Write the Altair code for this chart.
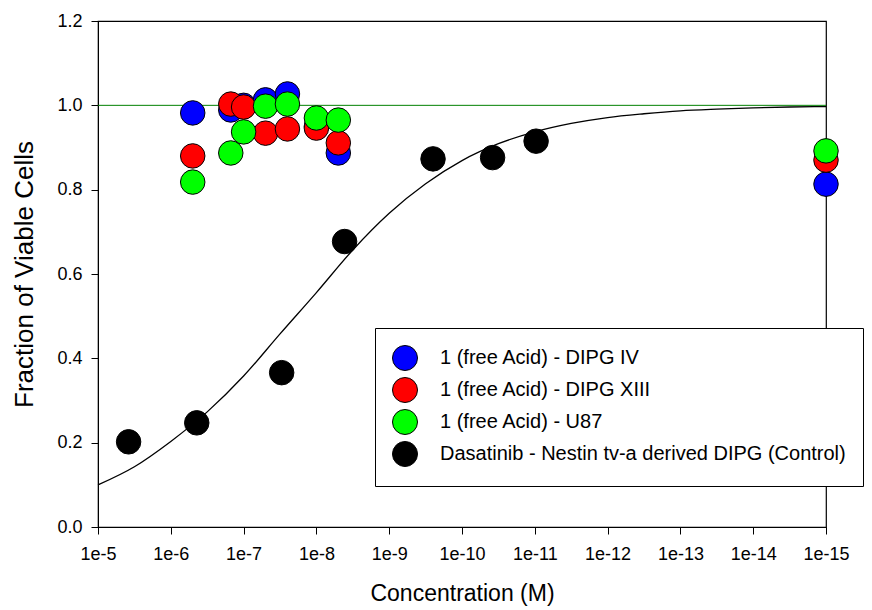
import altair as alt
import pandas as pd

# ---- data ----
series_names = [
    "1 (free Acid) - DIPG IV",
    "1 (free Acid) - DIPG XIII",
    "1 (free Acid) - U87",
    "Dasatinib - Nestin tv-a derived DIPG (Control)",
]
series_colors = ["#0000FF", "#FF0000", "#00FF00", "#000000"]

conc_cmpd = [5e-7, 1.5e-7, 1e-7, 5e-8, 2.5e-8, 1e-8, 5e-9, 1e-15]
frac_dipg_iv = [0.982, 0.989, 1.000, 1.013, 1.027, 0.950, 0.887, 0.813]
frac_dipg_xiii = [0.880, 1.003, 0.996, 0.934, 0.944, 0.946, 0.911, 0.870]
frac_u87 = [0.818, 0.887, 0.937, 0.998, 1.003, 0.970, 0.965, 0.892]

conc_dasatinib = [3.8e-6, 4.4e-7, 3.0e-8, 4.1e-9, 2.5e-10, 3.8e-11, 9.6e-12]
frac_dasatinib = [0.202, 0.247, 0.366, 0.677, 0.873, 0.876, 0.915]

# fitted curve (half-decade steps)
curve_conc = [1e-5, 3.16e-6, 1e-6, 3.16e-7, 1e-7, 3.16e-8, 1e-8, 3.16e-9, 1e-9,
              3.16e-10, 1e-10, 3.16e-11, 1e-11, 3.16e-12, 1e-12, 3.16e-13, 1e-13,
              3.16e-14, 1e-14, 3.16e-15, 1e-15]
curve_frac = [0.100, 0.143, 0.203, 0.273, 0.358, 0.458, 0.556, 0.657, 0.744, 0.814,
              0.869, 0.909, 0.937, 0.957, 0.971, 0.980, 0.987, 0.991, 0.994, 0.996, 0.997]

x_ticks = [1e-5, 1e-6, 1e-7, 1e-8, 1e-9, 1e-10, 1e-11, 1e-12, 1e-13, 1e-14, 1e-15]
y_ticks = [0.0, 0.2, 0.4, 0.6, 0.8, 1.0, 1.2]
ref_line = [1.0]

# ---- tables ----
rows = []
for name, fr in zip(series_names[:3], [frac_dipg_iv, frac_dipg_xiii, frac_u87]):
    for c, v in zip(conc_cmpd, fr):
        rows.append({"conc": c, "frac": v, "series": name})
for c, v in zip(conc_dasatinib, frac_dasatinib):
    rows.append({"conc": c, "frac": v, "series": series_names[3]})
points_df = pd.DataFrame(rows)
curve_df = pd.DataFrame({"conc": curve_conc, "frac": curve_frac})
ref_df = pd.DataFrame({"frac": ref_line})

FONT = "Liberation Sans"

x_enc = alt.X(
    "conc:Q",
    scale=alt.Scale(type="log", domain=[1e-15, 1e-5], reverse=True, nice=False),
    axis=alt.Axis(
        values=x_ticks,
        labelExpr="'1e' + round(log(datum.value)/LN10)",
        labelFlush=False,
        labelOverlap=False,
        title="Concentration (M)",
        titleFontSize=23,
        titlePadding=19,
        labelPadding=11,
    ),
)
y_enc = alt.Y(
    "frac:Q",
    scale=alt.Scale(domain=[0, 1.2], nice=False, zero=False),
    axis=alt.Axis(
        values=y_ticks,
        format=".1f",
        labelFlush=False,
        title="Fraction of Viable Cells",
        titleFontSize=26,
        titlePadding=19,
        labelPadding=9,
    ),
)

rule = alt.Chart(ref_df).mark_rule(color="#008000", strokeWidth=1).encode(y=y_enc)

curve = alt.Chart(curve_df).mark_line(
    color="black", strokeWidth=1.3, interpolate="monotone"
).encode(x=x_enc, y=y_enc)

points = alt.Chart(points_df).mark_circle(
    size=600, opacity=1, stroke="black", strokeWidth=1
).encode(
    x=x_enc,
    y=y_enc,
    color=alt.Color(
        "series:N",
        scale=alt.Scale(domain=series_names, range=series_colors),
        sort=series_names,
        legend=alt.Legend(
            title=None,
            orient="none",
            legendX=277,
            legendY=307,
            strokeColor="black",
            fillColor="white",
            padding=17,
            symbolType="circle",
            symbolSize=625,
            symbolStrokeColor="black",
            symbolStrokeWidth=1,
            symbolOpacity=1,
            labelFont=FONT,
            labelFontSize=20,
            labelColor="black",
            labelOffset=22,
            labelLimit=600,
            rowPadding=2,
        ),
    ),
)

chart = (
    alt.layer(rule, curve, points)
    .properties(
        width=728,
        height=506,
        padding={"left": 98, "top": 21, "right": 46, "bottom": 83},
        autosize=alt.AutoSizeParams(type="none"),
    )
    .configure_view(stroke="black", strokeWidth=1.2)
    .configure_axis(
        grid=False,
        domainColor="black",
        tickColor="black",
        tickSize=7,
        labelColor="black",
        titleColor="black",
        labelFont=FONT,
        titleFont=FONT,
        labelFontSize=18,
        titleFontWeight="normal",
    )
)

chart.save("out.html", embed_options={"renderer": "svg", "actions": False})
